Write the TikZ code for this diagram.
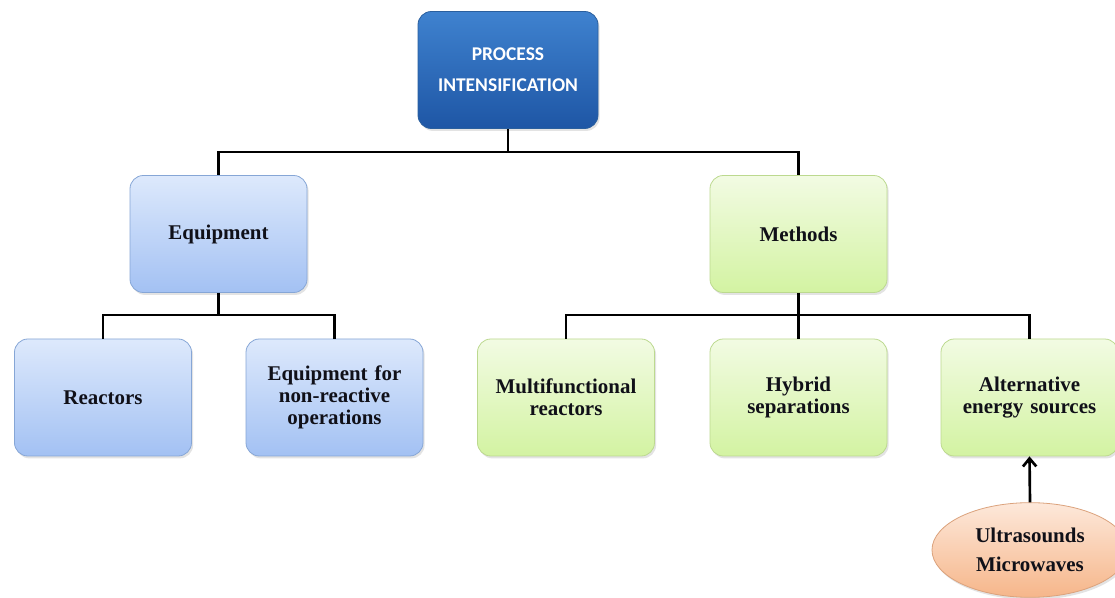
\documentclass[tikz,border=0pt]{standalone}
\usepackage{fontspec}
\setmainfont{Liberation Serif}
\newfontfamily\calibrifont{Carlito}
\usetikzlibrary{shadows,arrows.meta,shapes.geometric}
\definecolor{piTop}{HTML}{3F82CF}
\definecolor{piBot}{HTML}{1E56A5}
\definecolor{piEdge}{HTML}{2A5F9E}
\definecolor{blTop}{HTML}{DDE9FC}
\definecolor{blBot}{HTML}{A3C1F3}
\definecolor{blEdge}{HTML}{86A6D6}
\definecolor{grTop}{HTML}{F2FBE3}
\definecolor{grBot}{HTML}{D3F3A2}
\definecolor{grEdge}{HTML}{BCD98F}
\definecolor{orTop}{HTML}{FDE8DA}
\definecolor{orBot}{HTML}{F6B68A}
\definecolor{orEdge}{HTML}{DBA27C}
\definecolor{txt}{HTML}{101018}
\begin{document}
\begin{tikzpicture}[x=0.75pt,y=-0.75pt,
  shad/.style={drop shadow={opacity=0.22,shadow xshift=1.2pt,shadow yshift=-1.8pt}},
  basebox/.style={rounded corners=10pt, minimum width=132.75pt, minimum height=87.75pt,
    inner sep=3pt, align=center, text width=124pt, text=txt,
    font=\bfseries\fontsize{15.7}{16.5}\selectfont, shad},
  bluebox/.style={basebox, draw=blEdge, line width=0.6pt, top color=blTop, bottom color=blBot},
  greenbox/.style={basebox, draw=grEdge, line width=0.6pt, top color=grTop, bottom color=grBot},
  pibox/.style={rounded corners=10pt, minimum width=135pt, minimum height=87.75pt,
    align=center, text=white, draw=piEdge, line width=0.6pt, top color=piTop, bottom color=piBot,
    font=\calibrifont\bfseries\fontsize{14.6}{23}\selectfont, shad},
  ovalnode/.style={ellipse, minimum width=147pt, minimum height=71pt, align=center, text=txt,
    draw=orEdge, line width=0.6pt, top color=orTop, bottom color=orBot,
    font=\bfseries\fontsize{15.7}{21.5}\selectfont, shad},
  link/.style={line width=2pt, black},
  arrowlink/.style={line width=2pt, black, -{Straight Barb[length=6pt,width=10pt]}}
]
\useasboundingbox (0,0) rectangle (1115,598);
\fill[white] (0,0) rectangle (1115,598);

\node[pibox] (pi) at (508,70) {PROCESS\\INTENSIFICATION};

\node[bluebox] (eq) at (218.5,234) {Equipment};
\node[greenbox] (me) at (798.5,234) {Methods};

\node[bluebox] (re) at (103,397.5) {Reactors};
\node[bluebox] (en) at (334.5,397.5) {Equipment for\\non-reactive\\operations};
\node[greenbox] (mf) at (566,397.5) {Multifunctional\\reactors};
\node[greenbox] (hy) at (798.5,397.5) {Hybrid\\separations};
\node[greenbox] (al) at (1029.5,397.5) {Alternative\\energy sources};

\node[ovalnode] (us) at (1030,550) {Ultrasounds\\Microwaves};

\coordinate (j1) at (508,152);
\coordinate (j2) at (218.5,315);
\coordinate (j3) at (798.5,315);

\draw[link] (pi.south) -- (j1);
\draw[link] (j1) -| (eq.north);
\draw[link] (j1) -| (me.north);

\draw[link] (eq.south) -- (j2);
\draw[link] (j2) -| (re.north);
\draw[link] (j2) -| (en.north);

\draw[link] (me.south) -- (j3);
\draw[link] (j3) -| (mf.north);
\draw[link] (j3) -- (hy.north);
\draw[link] (j3) -| (al.north);

\draw[arrowlink] (us.north) -- (al.south);
\end{tikzpicture}
\end{document}
